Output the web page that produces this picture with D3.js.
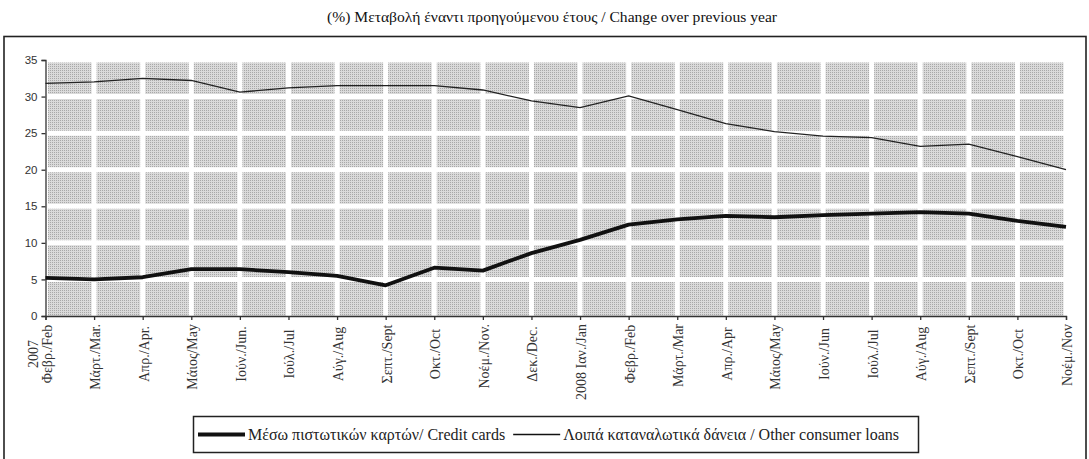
<html>
  <head>
    <meta charset="utf-8">
    <script src="https://d3js.org/d3.v7.min.js"></script>
    <style>
      body { margin: 0; background: white; }
      svg { display: block; }
    </style>
  </head>
  <body>
    <div id="chart"></div>
  </body>

  <script>
    // month labels (x axis), first one carries the year on a second line
    const months = ["Φεβρ./Feb", "Μάρτ./Mar.", "Απρ./Apr.", "Μάιος/May", "Ιούν./Jun.", "Ιούλ./Jul",
      "Αύγ./Aug", "Σεπτ./Sept", "Οκτ./Oct", "Νοέμ./Nov.", "Δεκ./Dec.", "2008 Ιαν./Jan",
      "Φεβρ./Feb ", "Μάρτ./Mar", "Απρ./Apr", "Μάιος/May ", "Ιούν./Jun", "Ιούλ./Jul ",
      "Αύγ./Aug ", "Σεπτ./Sept ", "Οκτ./Oct ", "Νοέμ./Nov"]
    const creditCards = [5.2, 5.0, 5.3, 6.4, 6.4, 6.0, 5.5, 4.2, 6.6, 6.2, 8.6, 10.4,
      12.5, 13.2, 13.7, 13.5, 13.8, 14.0, 14.2, 14.0, 13.0, 12.2]
    const otherLoans = [31.8, 32.0, 32.5, 32.2, 30.6, 31.2, 31.5, 31.5, 31.5, 30.9, 29.4, 28.5,
      30.1, 28.2, 26.3, 25.2, 24.6, 24.4, 23.2, 23.5, 21.8, 20.0]
    const yTicks = [0, 5, 10, 15, 20, 25, 30, 35]
    const seriesNames = ["Μέσω πιστωτικών καρτών/ Credit cards", "Λοιπά καταναλωτικά δάνεια / Other consumer loans"]

    const W = 1089, H = 459
    const svg = d3.select("#chart").append("svg")
      .attr("width", W).attr("height", H)

    // outer frame
    svg.append("rect")
      .attr("x", 4).attr("y", 36.5)
      .attr("width", 1082).attr("height", 440)
      .attr("fill", "none").attr("stroke", "#222").attr("stroke-width", 1.6)

    // title
    svg.append("text")
      .attr("x", 552).attr("y", 22)
      .attr("text-anchor", "middle")
      .style("font-family", "'Liberation Serif', 'DejaVu Serif', serif")
      .style("font-size", "14px")
      .attr("fill", "#111")
      .attr("textLength", 450).attr("lengthAdjust", "spacingAndGlyphs")
      .text("(%) Μεταβολή έναντι προηγούμενου έτους / Change over previous year")

    const x = d3.scalePoint().domain(months).range([45.5, 1066])
    const y = d3.scaleLinear().domain([0, 35]).range([316, 60])

    // dotted grey background
    const pat = svg.append("defs").append("pattern")
      .attr("id", "dots").attr("width", 2).attr("height", 2)
      .attr("patternUnits", "userSpaceOnUse")
    pat.append("rect").attr("width", 2).attr("height", 2).attr("fill", "#dadada")
    pat.append("rect").attr("width", 1).attr("height", 1).attr("fill", "#a8a8a8")

    svg.append("rect")
      .attr("x", x.range()[0]).attr("y", y(35))
      .attr("width", x.range()[1] - x.range()[0]).attr("height", y(0) - y(35))
      .attr("fill", "url(#dots)")

    // white gridlines cut the background into cells
    svg.append("g").selectAll("line")
      .data(yTicks.filter(d => d > 0))
      .join("line")
        .attr("x1", x.range()[0]).attr("x2", x.range()[1])
        .attr("y1", d => y(d)).attr("y2", d => y(d))
        .attr("stroke", "white").attr("stroke-width", 5)
    svg.append("g").selectAll("line")
      .data(months)
      .join("line")
        .attr("x1", d => x(d)).attr("x2", d => x(d))
        .attr("y1", y(35)).attr("y2", y(0))
        .attr("stroke", "white").attr("stroke-width", 5)

    // axes
    const yAxis = svg.append("g")
      .attr("transform", `translate(${x.range()[0]},0)`)
      .call(d3.axisLeft(y).tickValues(yTicks).tickSize(4).tickPadding(4))
    yAxis.selectAll("text")
      .style("font-family", "'Liberation Sans', Arial, sans-serif")
      .style("font-size", "11.5px").attr("fill", "#333")
    yAxis.selectAll("path, line").attr("stroke", "#333").attr("stroke-width", 1.3)

    const xAxis = svg.append("g")
      .attr("transform", `translate(0,${y(0)})`)
      .call(d3.axisBottom(x).tickSize(4).tickFormat(""))
    xAxis.selectAll("path, line").attr("stroke", "#333").attr("stroke-width", 1.3)

    // rotated month labels
    const labelFont = "'Liberation Serif', 'DejaVu Serif', serif"
    const lab = svg.append("g")
    months.forEach(function(m, i) {
      const t = lab.append("text")
        .attr("transform", `translate(${x(m) + 6},354) rotate(-90)`)
        .attr("text-anchor", "middle")
        .style("font-family", labelFont).style("font-size", "14px")
        .attr("fill", "#333")
        .text(m.trim())
      const len = t.node().getComputedTextLength()
      // keep the text end off the axis
      if (354 - len / 2 < 324) {
        t.attr("transform", `translate(${x(m) + 6},${324 + len / 2}) rotate(-90)`)
      }
      if (i === 0) {
        lab.append("text")
          .attr("transform", `translate(${x(m) - 8},354) rotate(-90)`)
          .attr("text-anchor", "middle")
          .style("font-family", labelFont).style("font-size", "14px")
          .attr("fill", "#333")
          .text("2007")
      }
    })

    // series lines
    const line = d3.line()
      .x((d, i) => x(months[i]))
      .y(d => y(d))
    svg.append("path").datum(otherLoans)
      .attr("d", line)
      .attr("fill", "none").attr("stroke", "#222").attr("stroke-width", 1.3)
    svg.append("path").datum(creditCards)
      .attr("d", line)
      .attr("fill", "none").attr("stroke", "#111").attr("stroke-width", 3.8)
      .attr("stroke-linejoin", "round")

    // legend
    const leg = svg.append("g")
    leg.append("rect")
      .attr("x", 193.5).attr("y", 416.5).attr("width", 725).attr("height", 36)
      .attr("fill", "white").attr("stroke", "#222").attr("stroke-width", 1.5)
    let lx = 198
    const widths = [3.8, 1.3]
    seriesNames.forEach(function(name, i) {
      leg.append("line")
        .attr("x1", lx).attr("x2", lx + 47)
        .attr("y1", 434.5).attr("y2", 434.5)
        .attr("stroke", "#111").attr("stroke-width", widths[i])
      const t = leg.append("text")
        .attr("x", lx + 50).attr("y", 440)
        .style("font-family", labelFont).style("font-size", "16px")
        .attr("fill", "#222")
        .text(name)
      lx = lx + 50 + t.node().getComputedTextLength() + 8
    })
  </script>
</html>
